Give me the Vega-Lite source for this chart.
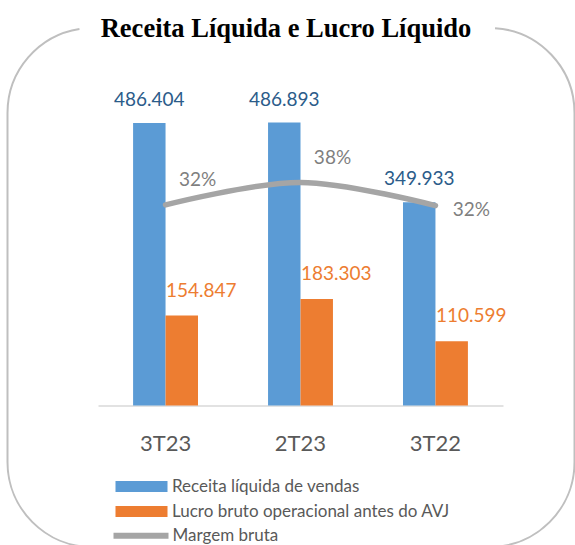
{
  "$schema": "https://vega.github.io/schema/vega-lite/v6.json",
  "width": 567,
  "height": 519,
  "padding": {"left": 7.5, "top": 28, "right": 0, "bottom": 0},
  "autosize": {"type": "none"},
  "background": "white",
  "config": {
    "view": {"stroke": "#BFBFBF", "strokeWidth": 2, "cornerRadius": 85, "strokeDash": [0, 402.5, 1610, 14]},
    "locale": {"number": {"decimal": ",", "thousands": ".", "grouping": [3], "currency": ["R$", ""]}},
    "font": "Lato"
  },
  "title": {
    "text": "Receita Líquida e Lucro Líquido",
    "font": "Liberation Serif",
    "fontSize": 26.5,
    "fontWeight": "bold",
    "color": "#000000",
    "anchor": "middle",
    "offset": -14,
    "dx": -5
  },
  "datasets": {
    "bars": [
      {"periodo": "3T23", "serie": "Receita líquida de vendas", "valor": 486404},
      {"periodo": "3T23", "serie": "Lucro bruto operacional antes do AVJ", "valor": 154847},
      {"periodo": "2T23", "serie": "Receita líquida de vendas", "valor": 486893},
      {"periodo": "2T23", "serie": "Lucro bruto operacional antes do AVJ", "valor": 183303},
      {"periodo": "3T22", "serie": "Receita líquida de vendas", "valor": 349933},
      {"periodo": "3T22", "serie": "Lucro bruto operacional antes do AVJ", "valor": 110599}
    ],
    "margem": [
      {"periodo": "3T23", "serie": "Margem bruta", "margem": 0.318},
      {"periodo": "2T23", "serie": "Margem bruta", "margem": 0.376},
      {"periodo": "3T22", "serie": "Margem bruta", "margem": 0.316}
    ]
  },
  "layer": [
    {
      "data": {"name": "bars"},
      "mark": {"type": "bar"},
      "encoding": {
        "x": {
          "field": "periodo", "type": "nominal",
          "scale": {"domain": ["3T23", "2T23", "3T22"], "range": [90.5, 495.5], "paddingInner": 0.519, "paddingOuter": 0.26},
          "axis": {
            "title": null, "orient": "bottom", "offset": -141.5, "ticks": false, "tickSize": 0,
            "domainColor": "#D9D9D9", "domainWidth": 1.5, "labelFont": "Lato", "labelFontSize": 22,
            "labelColor": "#595959", "labelPadding": 28, "labelAngle": 0, "grid": false
          }
        },
        "xOffset": {"field": "serie", "type": "nominal", "scale": {"domain": ["Receita líquida de vendas", "Lucro bruto operacional antes do AVJ"]}},
        "y": {"field": "valor", "type": "quantitative", "scale": {"domain": [0, 600000], "range": [377.5, 28.9], "nice": false, "zero": false}, "axis": null},
        "color": {
          "field": "serie", "type": "nominal",
          "scale": {"domain": ["Receita líquida de vendas", "Lucro bruto operacional antes do AVJ"], "range": ["#5B9BD5", "#ED7D31"]},
          "legend": {
            "orient": "none", "legendX": 125.5, "legendY": 450, "title": null, "direction": "vertical",
            "symbolType": "M-5.2,-1.1H5.2V1.1H-5.2Z", "symbolSize": 100, "symbolStrokeWidth": 0, "symbolOffset": 0,
            "symbolOpacity": 1, "labelOffset": 22, "rowPadding": 7, "labelFont": "Lato", "labelFontSize": 17,
            "labelColor": "#595959", "labelLimit": 400, "padding": 0, "offset": 0
          }
        }
      }
    },
    {
      "data": {"name": "bars"},
      "transform": [{"filter": "datum.serie == 'Receita líquida de vendas'"}],
      "mark": {"type": "text", "baseline": "middle", "align": "center", "dy": -23, "fontSize": 19, "font": "Lato", "color": "#2B5C8A"},
      "encoding": {
        "x": {"field": "periodo", "type": "nominal", "scale": {"domain": ["3T23", "2T23", "3T22"]}},
        "xOffset": {"field": "serie", "type": "nominal", "scale": {"domain": ["Receita líquida de vendas", "Lucro bruto operacional antes do AVJ"]}},
        "y": {"field": "valor", "type": "quantitative", "scale": {"domain": [0, 600000], "range": [377.5, 28.9], "nice": false, "zero": false}, "axis": null},
        "text": {"field": "valor", "type": "quantitative", "format": ",d"}
      }
    },
    {
      "data": {"name": "bars"},
      "transform": [{"filter": "datum.serie == 'Lucro bruto operacional antes do AVJ'"}],
      "mark": {"type": "text", "baseline": "middle", "align": "center", "dx": 19.5, "dy": -25, "fontSize": 19, "font": "Lato", "color": "#ED7D31"},
      "encoding": {
        "x": {"field": "periodo", "type": "nominal", "scale": {"domain": ["3T23", "2T23", "3T22"]}},
        "xOffset": {"field": "serie", "type": "nominal", "scale": {"domain": ["Receita líquida de vendas", "Lucro bruto operacional antes do AVJ"]}},
        "y": {"field": "valor", "type": "quantitative", "scale": {"domain": [0, 600000], "range": [377.5, 28.9], "nice": false, "zero": false}, "axis": null},
        "text": {"field": "valor", "type": "quantitative", "format": ",d"}
      }
    },
    {
      "data": {"name": "margem"},
      "mark": {"type": "line", "interpolate": "catmull-rom", "strokeWidth": 5.5, "strokeCap": "round"},
      "encoding": {
        "x": {"field": "periodo", "type": "nominal", "scale": {"domain": ["3T23", "2T23", "3T22"]}},
        "y": {"field": "margem", "type": "quantitative", "scale": {"domain": [-0.2, 0.7], "range": [377.5, 28.9], "nice": false, "zero": false}, "axis": null},
        "stroke": {
          "field": "serie", "type": "nominal",
          "scale": {"domain": ["Margem bruta"], "range": ["#A5A5A5"]},
          "legend": {
            "orient": "none", "legendX": 125, "legendY": 499.2, "title": null, "direction": "vertical",
            "symbolType": "M-5.5,0H5.5", "symbolSize": 100, "symbolStrokeWidth": 6, "symbolOffset": 0,
            "labelOffset": 23, "labelFont": "Lato", "labelFontSize": 17, "labelColor": "#595959",
            "labelLimit": 400, "padding": 0, "offset": 0
          }
        }
      }
    },
    {
      "data": {"name": "margem"},
      "transform": [{"filter": "datum.periodo != '3T22'"}],
      "mark": {"type": "text", "baseline": "middle", "align": "center", "dx": 32, "dy": -24.5, "fontSize": 19, "font": "Lato", "color": "#7F7F7F"},
      "encoding": {
        "x": {"field": "periodo", "type": "nominal", "scale": {"domain": ["3T23", "2T23", "3T22"]}},
        "y": {"field": "margem", "type": "quantitative", "scale": {"domain": [-0.2, 0.7], "range": [377.5, 28.9], "nice": false, "zero": false}, "axis": null},
        "text": {"field": "margem", "type": "quantitative", "format": ".0%"}
      }
    },
    {
      "data": {"name": "margem"},
      "transform": [{"filter": "datum.periodo == '3T22'"}],
      "mark": {"type": "text", "baseline": "middle", "align": "center", "dx": 36, "dy": 4, "fontSize": 19, "font": "Lato", "color": "#7F7F7F"},
      "encoding": {
        "x": {"field": "periodo", "type": "nominal", "scale": {"domain": ["3T23", "2T23", "3T22"]}},
        "y": {"field": "margem", "type": "quantitative", "scale": {"domain": [-0.2, 0.7], "range": [377.5, 28.9], "nice": false, "zero": false}, "axis": null},
        "text": {"field": "margem", "type": "quantitative", "format": ".0%"}
      }
    }
  ],
  "resolve": {"scale": {"y": "independent"}}
}
